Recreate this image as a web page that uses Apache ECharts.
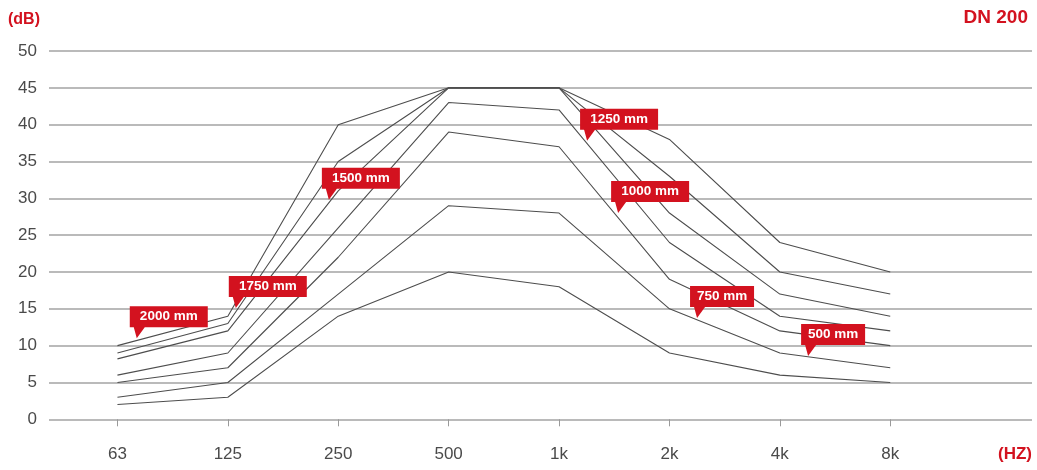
<!DOCTYPE html>
<html>
<head>
<meta charset="utf-8">
<script src="https://cdn.jsdelivr.net/npm/echarts@6/dist/echarts.min.js"></script>
<style>
html,body{margin:0;padding:0;background:#fff;}
#chart{width:1037px;height:470px;}
</style>
</head>
<body>
<div id="chart"></div>
<script>
// ---- data ----
const frequencies = ['63', '125', '250', '500', '1k', '2k', '4k', '8k'];
const seriesNames = ['2000 mm', '1750 mm', '1500 mm', '1250 mm', '1000 mm', '750 mm', '500 mm'];
const s2000 = [10, 14, 40, 45, 45, 38, 24, 20];
const s1750 = [9, 13, 35, 45, 45, 33, 20, 17];
const s1500 = [8.2, 12, 31, 45, 45, 28, 17, 14];
const s1250 = [6, 9, 26, 43, 42, 24, 14, 12];
const s1000 = [5, 7, 22, 39, 37, 19, 12, 10];
const s750 = [3, 5, 17, 29, 28, 15, 9, 7];
const s500 = [2, 3, 14, 20, 18, 9, 6, 5];
const yTicks = [0, 5, 10, 15, 20, 25, 30, 35, 40, 45, 50];
// callout anchor points (x in frequency-index units, y in dB)
const calloutX = [0.175, 1.072, 1.915, 4.254, 4.535, 5.25, 6.256];
const calloutY = [11.0, 15.1, 29.8, 37.8, 28.0, 13.75, 8.6];

const allSeries = [s2000, s1750, s1500, s1250, s1000, s750, s500];
const RED = '#d3121f';
const FONT = 'Liberation Sans, Arial, sans-serif';

function flagPath(w) {
  return 'path://M0 0 L' + w + ' 0 L' + w + ' 21 L15 21 L7 32 L4 21 L0 21 Z';
}

const chart = echarts.init(document.getElementById('chart'));
const series = allSeries.map((vals, k) => {
  const name = seriesNames[k];
  const w = name.length > 6 ? 78 : 64;
  return {
    name: name,
    type: 'line',
    data: vals.map((v, i) => [i, v]),
    symbol: 'none',
    lineStyle: { color: '#4d4d4d', width: 1.1 },
    silent: true,
    z: 3,
    markPoint: {
      silent: true,
      z: 5,
      data: [{
        coord: [calloutX[k], calloutY[k]],
        symbol: flagPath(w),
        symbolSize: [w, 32],
        symbolKeepAspect: false,
        symbolOffset: [w / 2 - 7, -16],
        itemStyle: { color: RED },
        label: {
          show: true,
          formatter: name,
          position: 'inside',
          offset: [0, -5.5],
          color: '#fff',
          fontWeight: 'bold',
          fontSize: 13.5,
          fontFamily: FONT
        }
      }]
    }
  };
});

chart.setOption({
  animation: false,
  backgroundColor: '#fff',
  grid: { left: 49, right: 5, top: 51, bottom: 50.7, containLabel: false },
  xAxis: {
    type: 'value',
    min: -0.62,
    max: 8.284,
    axisLine: { show: false },
    splitLine: { show: false },
    axisTick: { show: true, customValues: frequencies.map((f, i) => i), length: 7, lineStyle: { color: '#9a9a9a', width: 1 } },
    axisLabel: {
      customValues: frequencies.map((f, i) => i),
      formatter: v => frequencies[Math.round(v)],
      color: '#4a4a4a',
      fontSize: 17,
      margin: 27,
      fontFamily: FONT
    }
  },
  yAxis: {
    type: 'value',
    min: yTicks[0],
    max: yTicks[yTicks.length - 1],
    interval: 5,
    axisLine: { show: false },
    axisTick: { show: false },
    splitLine: { lineStyle: { color: '#a3a3a3', width: 1.6 } },
    axisLabel: {
      color: '#4a4a4a',
      fontSize: 17,
      margin: 12,
      fontFamily: FONT
    }
  },
  graphic: [
    { type: 'text', left: 8, top: 12, style: { text: '(dB)', fill: RED, fontSize: 16, fontWeight: 'bold', fontFamily: FONT } },
    { type: 'text', right: 9, top: 8, style: { text: 'DN 200', fill: RED, fontSize: 19, fontWeight: 'bold', fontFamily: FONT } },
    { type: 'text', right: 5, top: 446, style: { text: '(HZ)', fill: RED, fontSize: 17, fontWeight: 'bold', fontFamily: FONT } }
  ],
  series: series
});
</script>
</body>
</html>
